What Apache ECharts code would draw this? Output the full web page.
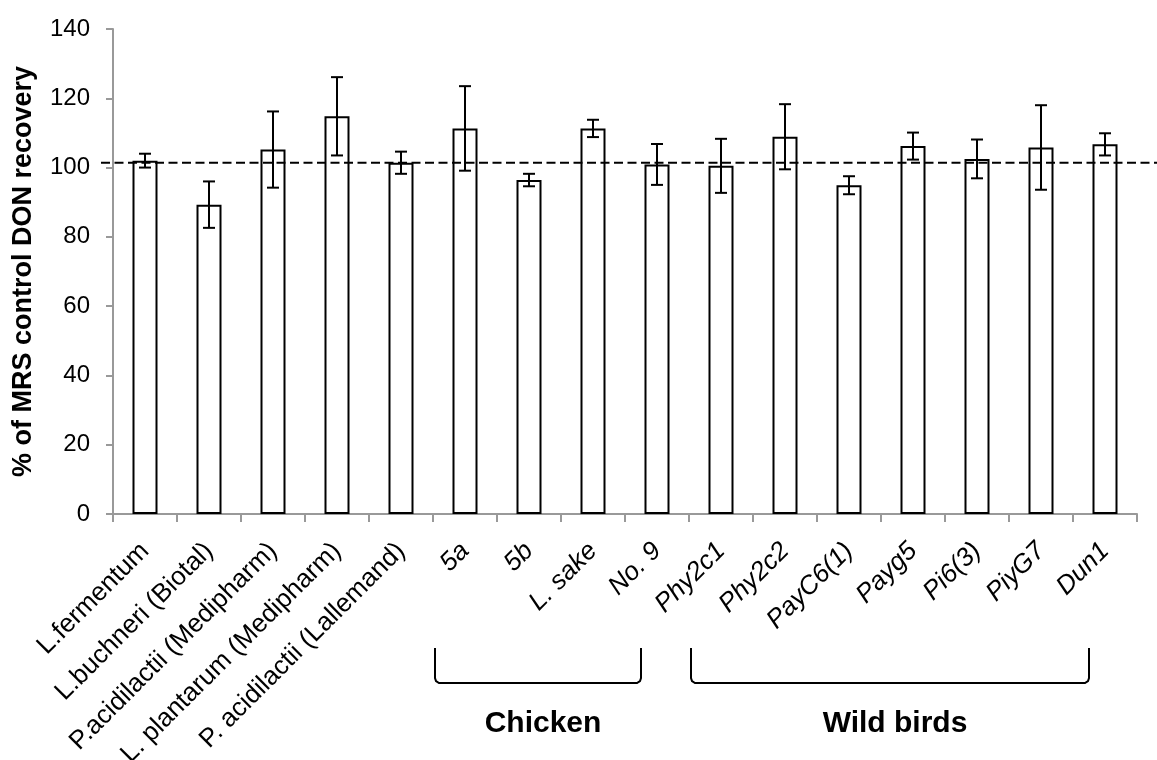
<!DOCTYPE html>
<html>
<head>
<meta charset="utf-8">
<script src="https://cdn.jsdelivr.net/npm/echarts@6/dist/echarts.min.js"></script>
<style>
  html, body { margin: 0; padding: 0; background: #fff; }
  #chart { width: 1157px; height: 760px; }
</style>
</head>
<body>
<div id="chart"></div>
<script>
// Strains tested (the first five are commercial products, named upright)
const categories = [
  'L.fermentum', 'L.buchneri (Biotal)', 'P.acidilactii (Medipharm)',
  'L. plantarum (Medipharm)', 'P. acidilactii (Lallemand)',
  '5a', '5b', 'L. sake', 'No. 9',
  'Phy2c1', 'Phy2c2', 'PayC6(1)', 'Payg5', 'Pi6(3)', 'PiyG7', 'Dun1'
];
const uprightCount = 5;

// DON recovery as % of the MRS control, with error bar half-widths
const recovery = [102.0, 89.3, 105.2, 114.8, 101.4, 111.3, 96.4, 111.3, 100.9,
                  100.5, 108.9, 94.9, 106.2, 102.5, 105.8, 106.7];
const errors   = [2.0, 6.7, 11.0, 11.3, 3.2, 12.2, 1.8, 2.5, 5.9,
                  7.8, 9.4, 2.6, 3.9, 5.6, 12.2, 3.2];

// Value axis ticks
const yMin = 0, yMax = 140, yStep = 20;

// Reference level of the control
const controlLevel = 101.4;

// Source groups bracketed under the axis
const groupNames = ['Chicken', 'Wild birds'];
const groupFirst = ['5a', 'Phy2c1'];
const groupLast  = ['No. 9', 'Dun1'];

const FONT = '"Liberation Sans", Arial, sans-serif';
const chart = echarts.init(document.getElementById('chart'));

const axisCategories = categories.map((name, i) => ({
  value: name,
  textStyle: { fontStyle: i < uprightCount ? 'normal' : 'italic' }
}));
const errData = recovery.map((v, i) => [i, v, errors[i]]);

chart.setOption({
  animation: false,
  backgroundColor: '#fff',
  grid: { left: 113, right: 20, top: 29, bottom: 246, containLabel: false, outerBoundsMode: 'none' },
  xAxis: {
    type: 'category',
    data: axisCategories,
    boundaryGap: true,
    axisLine: { lineStyle: { color: '#999', width: 2 } },
    axisTick: { show: true, length: 8, alignWithLabel: false, lineStyle: { color: '#999', width: 2 } },
    axisLabel: {
      interval: 0,
      rotate: 45,
      margin: 33,
      fontFamily: FONT,
      fontSize: 26,
      color: '#000'
    },
    splitLine: { show: false }
  },
  yAxis: {
    type: 'value',
    min: yMin, max: yMax, interval: yStep,
    name: '% of MRS control DON recovery',
    nameLocation: 'middle',
    nameRotate: 90,
    nameGap: 76,
    nameTextStyle: { fontFamily: FONT, fontSize: 27, fontWeight: 'bold', color: '#000' },
    axisLine: { show: true, lineStyle: { color: '#999', width: 2 } },
    axisTick: { show: true, length: 7, lineStyle: { color: '#999', width: 2 } },
    axisLabel: { fontFamily: FONT, fontSize: 24, color: '#000', margin: 23 },
    splitLine: { show: false }
  },
  series: [
    {
      type: 'bar',
      data: recovery,
      barWidth: 25,
      itemStyle: { color: '#fff', borderColor: '#000', borderWidth: 2 },
      z: 2
    },
    {
      type: 'custom',
      data: errData,
      z: 5,
      renderItem: function (params, api) {
        const idx = api.value(0);
        const m = api.value(1), e = api.value(2);
        const top = api.coord([idx, m + e]);
        const bot = api.coord([idx, m - e]);
        const half = 6;
        const style = { stroke: '#000', lineWidth: 2 };
        return {
          type: 'group',
          children: [
            { type: 'line', shape: { x1: top[0], y1: top[1], x2: bot[0], y2: bot[1] }, style: style },
            { type: 'line', shape: { x1: top[0] - half, y1: top[1], x2: top[0] + half, y2: top[1] }, style: style },
            { type: 'line', shape: { x1: bot[0] - half, y1: bot[1], x2: bot[0] + half, y2: bot[1] }, style: style }
          ]
        };
      }
    }
  ]
});

// Overlay: dashed control line and the group brackets, placed from the axes
function drawOverlay() {
  const W = chart.getWidth();
  const yRef = chart.convertToPixel({ yAxisIndex: 0 }, controlLevel);
  const x0 = chart.convertToPixel({ xAxisIndex: 0 }, categories[0]);
  const x1 = chart.convertToPixel({ xAxisIndex: 0 }, categories[1]);
  const band = x1 - x0;
  const axisLeft = x0 - band / 2;

  const elements = [{
    type: 'line',
    z: 100,
    shape: { x1: axisLeft - 12, y1: yRef, x2: W, y2: yRef },
    style: { stroke: '#000', lineWidth: 2, lineDash: [9, 4.5] }
  }];

  const bTop = 648, bBottom = 683;
  groupNames.forEach((name, g) => {
    const left = chart.convertToPixel({ xAxisIndex: 0 }, groupFirst[g]) - band * 0.5 + 2;
    const right = chart.convertToPixel({ xAxisIndex: 0 }, groupLast[g]) - band * 0.25;
    // bracket with slightly rounded lower corners
    const pts = [
      [left, bTop], [left, bBottom - 5], [left + 1, bBottom - 2], [left + 4, bBottom],
      [right - 4, bBottom], [right - 1, bBottom - 2], [right, bBottom - 5], [right, bTop]
    ];
    elements.push({
      type: 'polyline',
      z: 100,
      shape: { points: pts },
      style: { stroke: '#000', lineWidth: 2, fill: null }
    });
    elements.push({
      type: 'text',
      z: 100,
      style: {
        text: name,
        x: (left + right) / 2 + 5,
        y: 724,
        font: 'bold 30px ' + FONT,
        fill: '#000',
        align: 'center',
        verticalAlign: 'middle'
      }
    });
  });

  chart.setOption({ graphic: { elements: elements } });
}
drawOverlay();
</script>
</body>
</html>
